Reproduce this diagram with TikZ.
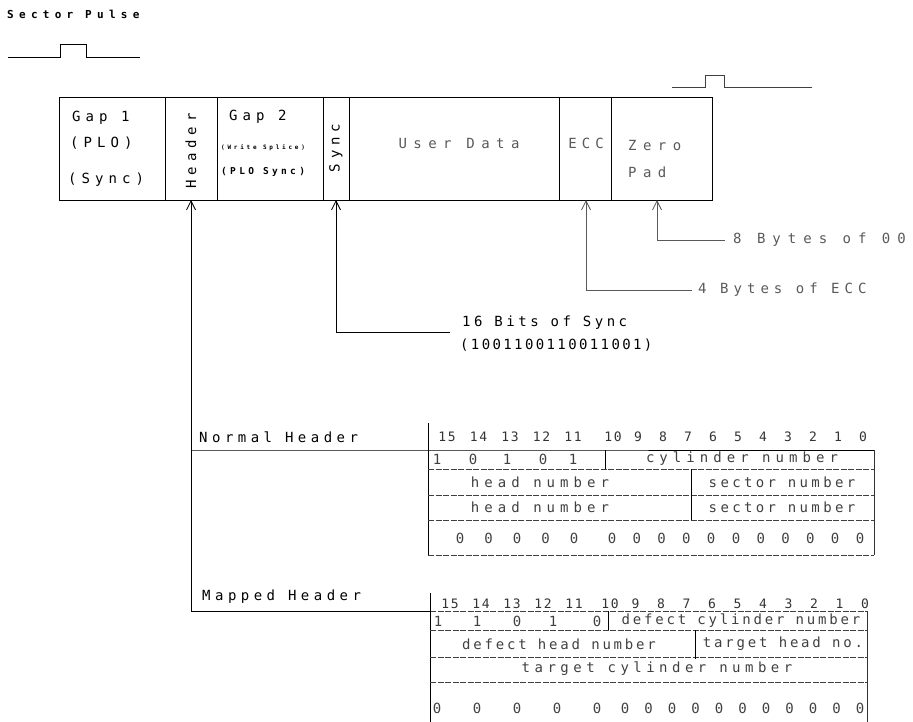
\documentclass[tikz,border=0pt]{standalone}
\usepackage{fontspec}
\usetikzlibrary{arrows.meta}
\newfontfamily\pltfont[LetterSpace=36]{DejaVu Sans Mono}
\newcommand\mainfnt{\pltfont\fontsize{14}{16}\selectfont}
\newcommand\numfnt{\pltfont\fontsize{13}{15}\selectfont\addfontfeatures{LetterSpace=12}}
\newcommand\titlefnt{\pltfont\bfseries\fontsize{11}{13}\selectfont\addfontfeatures{LetterSpace=48}}
\newcommand\smallbold{\pltfont\bfseries\fontsize{9.5}{11}\selectfont\addfontfeatures{LetterSpace=35}}
\newcommand\tinyfnt{\pltfont\bfseries\fontsize{6}{7}\selectfont\addfontfeatures{LetterSpace=46}}
\newcommand\lsp[1]{\addfontfeatures{LetterSpace=#1}}
\begin{document}
\begin{tikzpicture}[x=1pt,y=-1pt,
  seg/.style={draw, line width=0.9pt, minimum height=103pt, anchor=north west, inner sep=0pt, outer sep=0pt},
  lbl/.style={inner sep=0pt, font=\mainfnt},
  arr/.style={-{Straight Barb[length=9pt,width=9pt]}, line width=0.8pt},
  lead/.style={line width=0.7pt},
  faint/.style={black!65},
  rowline/.style={line width=0.6pt, dash pattern=on 6pt off 1.5pt, black!75},
  tline/.style={line width=0.7pt},
  bit/.style={inner sep=0pt, font=\numfnt, black!80},
  cell/.style={inner sep=0pt, font=\mainfnt, black!75},
]
\useasboundingbox (0,0) rectangle (913,722);

% title and pulses
\node[inner sep=0pt, anchor=west, font=\titlefnt] (tsp) at (7,14) {Sector Pulse};
\draw[line width=0.8pt] (8,57) -- (60,57) -- (60,44) -- (86,44) -- (86,57) -- (140,57);
\draw[line width=0.6pt, black!75] (672,87) -- (705,87) -- (705,75) -- (724,75) -- (724,87) -- (812,87);

% sector fields
\node[seg, minimum width=106pt] (gap1) at (59,97) {};
\node[seg, minimum width=52pt] (hdr) at (165,97) {};
\node[seg, minimum width=106pt] (gap2) at (217,97) {};
\node[seg, minimum width=26pt] (sync) at (323,97) {};
\node[seg, minimum width=210pt] (udata) at (349,97) {};
\node[seg, minimum width=52pt] (ecc) at (559,97) {};
\node[seg, minimum width=101pt] (zpad) at (611,97) {};

\node[lbl, anchor=west] (tg1) at (72,118) {Gap 1};
\node[lbl, anchor=west] (tplo) at (70,143) {(PLO)};
\node[lbl, anchor=west] (tsy1) at (68,180) {(Sync)};
\node[lbl, rotate=90] (thdr) at (191,151) {Header};
\node[lbl, anchor=west] (tg2) at (229,117) {Gap 2};
\node[inner sep=0pt, anchor=west, font=\tinyfnt] (tws) at (221,148) {(Write Splice)};
\node[inner sep=0pt, anchor=west, font=\smallbold] (tplos) at (221,172) {(PLO Sync)};
\node[lbl, rotate=90] (tsy) at (336,148) {Sync};
\node[lbl, faint] (tud) at (459,143) {\lsp{46}User Data};
\node[lbl, faint] (tecc) at (586,143) {ECC};
\node[lbl, faint, anchor=west] (tzero) at (628,145) {\lsp{46}Zero};
\node[lbl, faint, anchor=west] (tpad) at (628,172) {\lsp{46}Pad};

% zero pad lead
\coordinate (zpk) at (657,240);
\node[lbl, faint, anchor=west] (t8) at (733,240) {\lsp{50}8 Bytes of 00};
\draw[arr, faint] (zpk) -- (zpk |- zpad.south);
\draw[lead, faint] (zpk) -- (t8.west) [shorten >=8pt];
% ecc lead
\coordinate (eck) at (586,290);
\node[lbl, faint, anchor=west] (t4) at (698,290) {4 Bytes of ECC};
\draw[arr, faint] (eck) -- (eck |- ecc.south);
\draw[lead, faint] (eck) -- (t4.west) [shorten >=6pt];
% sync lead
\coordinate (syk) at (336,332);
\coordinate (sye) at (450,332);
\node[lbl, anchor=west] (t16) at (462,323) {\lsp{25}16 Bits of Sync};
\node[lbl, anchor=west] (tpat) at (460,345) {\lsp{17}(1001100110011001)};
\draw[arr] (syk) -- (sync.south);
\draw[lead] (syk) -- (sye);

% header lead
\coordinate (hn) at (191,450);
\coordinate (hk) at (191,611);
\draw[arr] (hk) -- (hdr.south);
\node[lbl, anchor=west] (tnh) at (199,437) {\lsp{32}Normal Header};
\node[lbl, anchor=west] (tmh) at (202,597) {\lsp{32}Mapped Header};

% normal header table
\coordinate (ntl) at (428,450);
\coordinate (ntr) at (874,450);
\coordinate (nbl) at (428,555);
\coordinate (nbr) at (874,555);
\coordinate (ntop) at (428,423);
\draw[tline] (hn) -- (ntl) -- (ntr);
\draw[tline] (ntop) -- (nbl);
\draw[tline, black!80] (ntr) -- (nbr);
\draw[rowline] (nbl) -- (nbr);
\foreach \yy in {469,495,520} \draw[rowline] (428,\yy) -- (874,\yy);
\draw[tline] (605,450) -- (605,469);
\draw[tline] (691,469) -- (691,520);
\foreach \b [count=\i from 0] in {15,14,...,0} {
  \pgfmathsetmacro\xx{\i<5 ? 447+31.5*\i : 613+25*(\i-5)}
  \node[bit] (nb\i) at (\xx,437) {\b};
}
\foreach \v/\xx [count=\i] in {1/437,0/473,1/507,0/543,1/573}
  \node[cell] (nr\i) at (\xx,459) {\v};
\node[cell] (ncyl) at (742,459) {cylinder number};
\node[cell] (nhd1) at (540,482) {head number};
\node[cell] (nsec1) at (782,482) {\lsp{24}sector number};
\node[cell] (nhd2) at (540,507) {head number};
\node[cell] (nsec2) at (782,507) {\lsp{24}sector number};
\foreach \i in {0,...,15} {
  \pgfmathsetmacro\xx{\i<5 ? 460+28.5*\i : 612+24.8*(\i-5)}
  \node[cell] (nz\i) at (\xx,538) {0};
}

% mapped header table
\coordinate (mtl) at (430,611);
\coordinate (mtr) at (867,611);
\coordinate (mbl) at (430,722);
\coordinate (mbr) at (867,722);
\coordinate (mtop) at (430,593);
\draw[tline] (hk) -- (mtl);
\draw[rowline] (mtl) -- (mtr);
\draw[tline] (mtop) -- (mbl);
\draw[tline, black!80] (mtr) -- (mbr);
\foreach \yy in {630,657,682} \draw[rowline] (430,\yy) -- (867,\yy);
\draw[tline] (608,611) -- (608,630);
\draw[tline] (695,630) -- (695,659);
\foreach \b [count=\i from 0] in {15,14,...,0} {
  \pgfmathsetmacro\xx{\i<5 ? 450+31*\i : 610+25.5*(\i-5)}
  \node[bit] (mb\i) at (\xx,604) {\b};
}
\foreach \v/\xx [count=\i] in {1/438,1/477,0/517,1/553,0/597}
  \node[cell] (mr\i) at (\xx,621) {\v};
\node[cell] (mcyl) at (741,621) {\lsp{20}defect cylinder number};
\node[cell] (mhd) at (559,644) {\lsp{20}defect head number};
\node[cell] (mth) at (783,644) {\lsp{20}target head no.};
\node[cell] (mtc) at (657,669) {\lsp{32}target cylinder number};
\foreach \i in {0,...,15} {
  \pgfmathsetmacro\xx{\i<5 ? 437+40*\i : 625+23.5*(\i-5)}
  \node[cell] (mz\i) at (\xx,708) {0};
}
\end{tikzpicture}
\end{document}
